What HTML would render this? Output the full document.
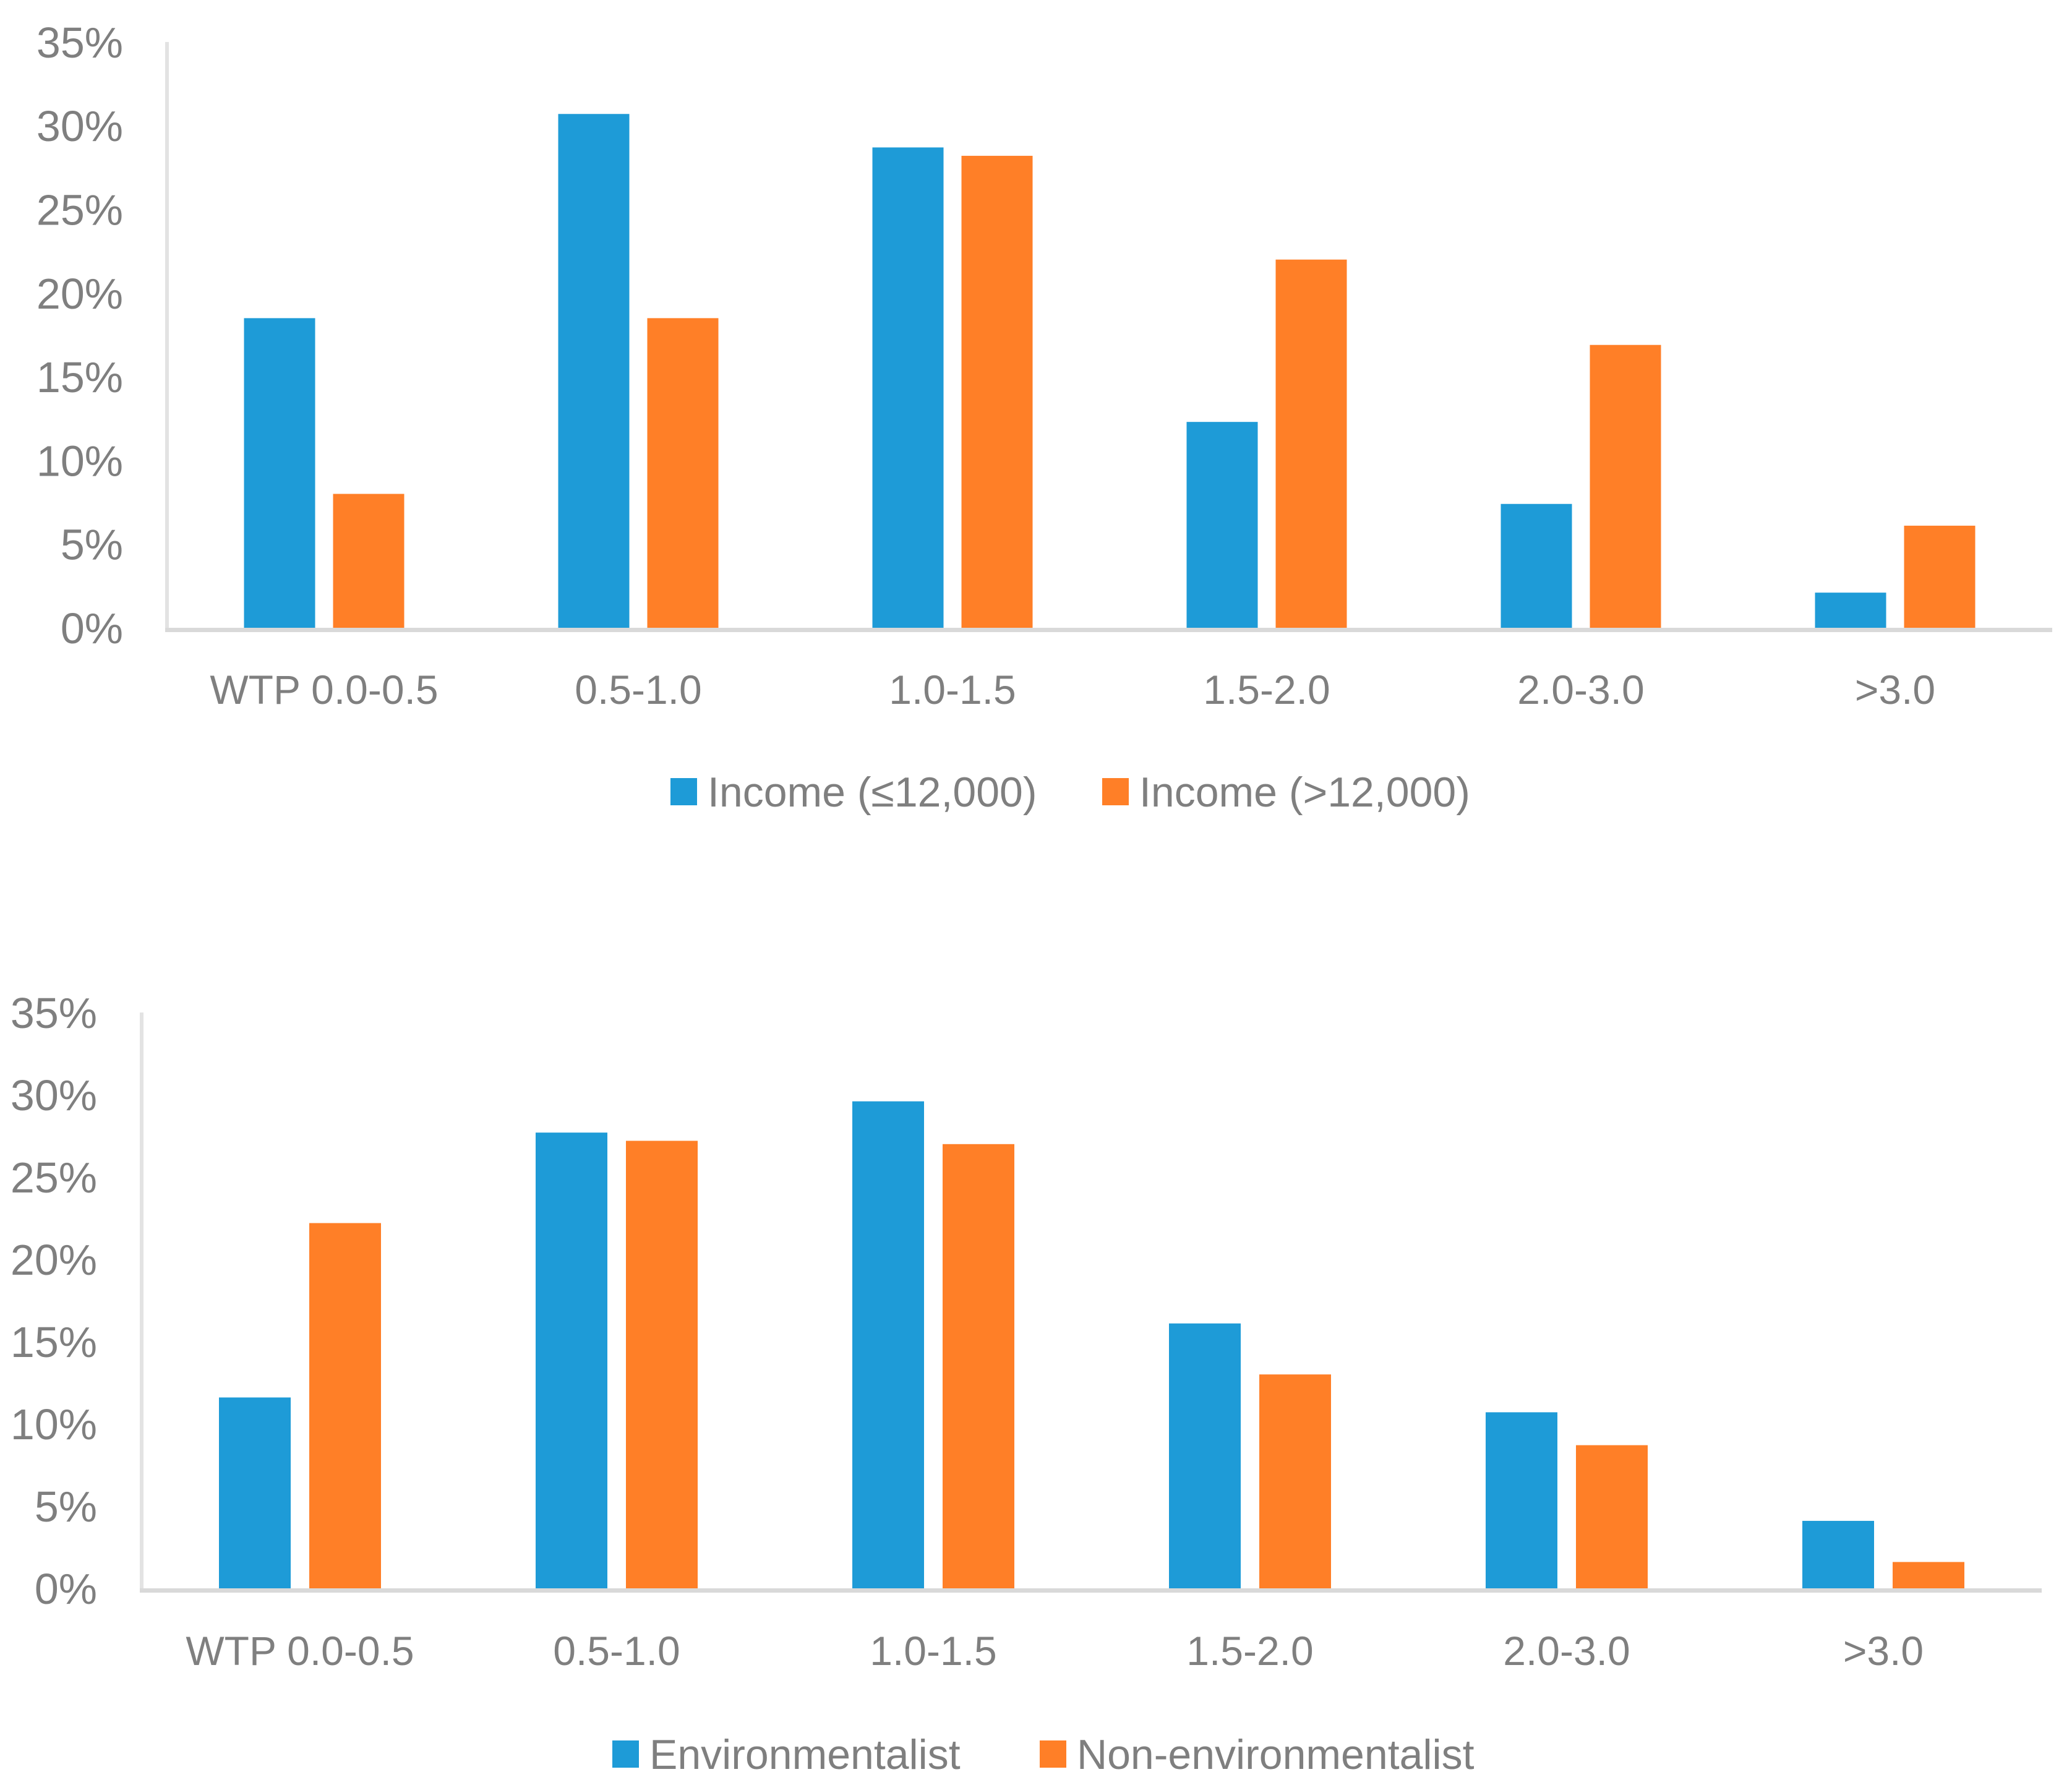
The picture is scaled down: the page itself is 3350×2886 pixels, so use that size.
<!DOCTYPE html>
<html><head><meta charset="utf-8"><style>
html,body{margin:0;padding:0;background:#fff;}
svg{display:block;font-family:"Liberation Sans",sans-serif;}
</style></head><body>
<svg id="c" width="3350" height="2886" viewBox="0 0 3350 2886" xmlns="http://www.w3.org/2000/svg"></svg>
<script>
const categories = ["WTP 0.0-0.5","0.5-1.0","1.0-1.5","1.5-2.0","2.0-3.0",">3.0"];
const yTicks = [0,5,10,15,20,25,30,35];
const incomeLow = [18.5,30.7,28.7,12.3,7.4,2.1];
const incomeHigh = [8.0,18.5,28.2,22.0,16.9,6.1];
const environ = [11.6,27.7,29.6,16.1,10.7,4.1];
const nonEnviron = [22.2,27.2,27.0,13.0,8.7,1.6];
const legend1 = ["Income (≤12,000)","Income (>12,000)"];
const legend2 = ["Environmentalist","Non-environmentalist"];

const NS="http://www.w3.org/2000/svg";
const svg=document.getElementById('c');
const BLUE="#1E9BD7", ORANGE="#FF7F27", GRAY="#7F7F7F";
function el(t,a,p){const e=document.createElementNS(NS,t);for(const k in a)e.setAttribute(k,a[k]);(p||svg).appendChild(e);return e;}

function chart(cfg){
  const g=el('g',{});
  
  
  const per5=cfg.per5;
  const y=v=>cfg.zero - v/5*per5;
  const cw=cfg.catW;
  const x=i=>cfg.x0 + cw*i + cw/2;
  const ya=el('line',{x1:cfg.x0,x2:cfg.x0,y1:y(35),y2:cfg.zero+7,stroke:"#E3E3E3","stroke-width":6},g);
  
  
  yTicks.forEach(t=>{
    const tx=el('text',{x:cfg.labelRight,y:y(t)+25,"text-anchor":"end","font-size":70,fill:GRAY},g);
    tx.textContent=t+"%";
    
    
  });
  const bw=cfg.barW, gap=cfg.gap;
  categories.forEach((c,i)=>{
    const cx=x(i);
    const v1=cfg.s1[i], v2=cfg.s2[i];
    const b1=el('rect',{x:cx-gap/2-bw,y:y(v1),width:bw,height:cfg.zero-y(v1),fill:BLUE},g);
    
    
    const b2=el('rect',{x:cx+gap/2,y:y(v2),width:bw,height:cfg.zero-y(v2),fill:ORANGE},g);
    
    
    const t=el('text',{x:cx,y:cfg.catY,"text-anchor":"middle","font-size":66,fill:GRAY},g);
    t.textContent=c;
    
    
  });
  const xa=el('line',{x1:cfg.x0-3,x2:cfg.x0+cw*6,y1:cfg.zero+3.5,y2:cfg.zero+3.5,stroke:"#D9D9D9","stroke-width":7},g);
  
  
  const L=cfg.leg;
  [[L.s1x,L.t1x,BLUE,cfg.legNames[0]],[L.s2x,L.t2x,ORANGE,cfg.legNames[1]]].forEach((d,k)=>{
    const r=el('rect',{x:d[0],y:L.y-22,width:43,height:44,fill:d[2]},g);
    
    
    const t=el('text',{x:d[1],y:L.y+24,"font-size":68,fill:GRAY},g);
    t.textContent=d[3];
    
    
  });
}

chart({name:'income-chart',x0:270,zero:1015,per5:135.3,catW:508,barW:115,gap:29,labelRight:199,catY:1138,
  s1:incomeLow,s2:incomeHigh,key1:'income-low',key2:'income-high',legNames:legend1,
  leg:{y:1280,s1x:1084,t1x:1144,s2x:1782,t2x:1842}});
chart({name:'environmentalist-chart',x0:229,zero:2568,per5:133,catW:512,barW:116,gap:30,labelRight:157,catY:2692,
  s1:environ,s2:nonEnviron,key1:'environmentalist',key2:'non-environmentalist',legNames:legend2,
  leg:{y:2836,s1x:990,t1x:1050,s2x:1681,t2x:1741}});
</script>
</body></html>
